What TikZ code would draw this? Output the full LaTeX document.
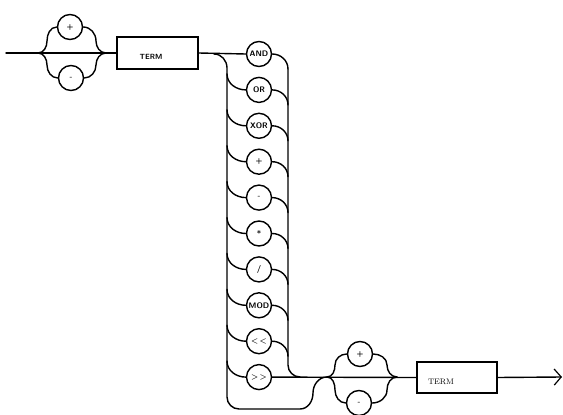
\documentclass[tikz,border=0pt]{standalone}
\usetikzlibrary{arrows.meta}
\begin{document}
\begin{tikzpicture}[x=1pt,y=1pt,
  rail/.style={line width=1.4pt, line cap=round, line join=round},
  op/.style={circle, draw, line width=1.4pt, minimum size=25pt, inner sep=0pt, font=\fontsize{8pt}{9pt}\selectfont\sffamily\bfseries},
  termbox/.style={draw, line width=1.4pt, minimum width=81pt, minimum height=32pt, inner sep=0pt},
  termtext/.style={inner sep=0pt, font=\fontsize{7.5pt}{8pt}\selectfont\sffamily\bfseries},
  termtextb/.style={inner sep=0pt, font=\fontsize{8pt}{9pt}\selectfont\rmfamily}
]
\useasboundingbox (0,0) rectangle (563,-415);

% ---- first sign choice and TERM
\coordinate (start) at (6,-53);
\coordinate (S1) at (38,-53);
\coordinate (J1) at (106,-53);
\node[op] (P1) at (70,-27) {+};
\node[op] (M1) at (71,-78) {-};
\node[termbox] (T1) at (157.5,-53) {};
\node[termtext] (T1l) at (151,-57) {TERM};

\draw[rail] (start) -- (T1.west);
\draw[rail] (S1) to[out=0,in=-90] (47,-41) to[out=90,in=180] (P1.west);
\draw[rail] (P1.east) to[out=0,in=90] (96,-41) to[out=-90,in=180] (J1);
\draw[rail] (S1) to[out=0,in=90] (47,-65) to[out=-90,in=180] (M1.west);
\draw[rail] (M1.east) to[out=0,in=-90] (96,-65) to[out=90,in=180] (J1);

% ---- operator column
\foreach \n/\t [count=\i from 0] in {O0/AND,O1/OR,O2/XOR,O3/+,O4/-,O5/*,O6/{/},O7/MOD,O8/{<\,<},O9/{>\,>}}{
  \node[op] (\n) at (259,{-(54+35.9*\i)}) {\t};
}
\draw[rail] (T1.east) -- (O0.west);

% left bus
\coordinate (LB0) at (214,-54);
\coordinate (LBtop) at (227,-68);
\coordinate (LBbot) at (227,-397);
\coordinate (BOTa) at (239,-409);
\coordinate (BOTb) at (300,-409);
\coordinate (BOTc) at (313,-393);
\coordinate (J2) at (327,-377);
\draw[rail] (LB0) to[out=0,in=90] (LBtop) -- (LBbot) to[out=-90,in=180] (BOTa) -- (BOTb)
  to[out=0,in=-90] (BOTc) to[out=90,in=180] (J2);

\foreach \i in {1,...,9}{
  \coordinate (L\i) at (227,{-(54+35.9*\i-16)});
  \draw[rail] (L\i) to[out=-90,in=180] (O\i.west);
}
% right bus
\foreach \i in {0,...,8}{
  \coordinate (R\i) at (288,{-(54+35.9*\i+15)});
  \draw[rail] (O\i.east) to[out=0,in=90] (R\i);
}
\coordinate (RBbot) at (288,-365);
\coordinate (RBj) at (300,-377);
\draw[rail] (R0) -- (RBbot) to[out=-90,in=180] (RBj);

% ---- second sign choice and TERM
\node[op] (P2) at (360,-354) {+};
\node[op] (M2) at (359,-403) {-};
\node[termbox, minimum width=80pt, minimum height=31pt] (T2) at (457,-377.5) {};
\node[termtextb] (T2l) at (441,-382) {TERM};
\coordinate (J3) at (397,-377);
\coordinate (END) at (562,-377);

\draw[rail] (O9.east) -- (T2.west);
\draw[rail] (J2) to[out=0,in=-90] (335,-365) to[out=90,in=180] (P2.west);
\draw[rail] (P2.east) to[out=0,in=90] (387,-365) to[out=-90,in=180] (J3);
\draw[rail] (J2) to[out=0,in=90] (335,-390) to[out=-90,in=180] (M2.west);
\draw[rail] (M2.east) to[out=0,in=-90] (387,-390) to[out=90,in=180] (J3);
\draw[rail, -{Straight Barb[length=7pt,width=16pt,line width=1.2pt]}] (T2.east) -- (END);
\end{tikzpicture}
\end{document}
